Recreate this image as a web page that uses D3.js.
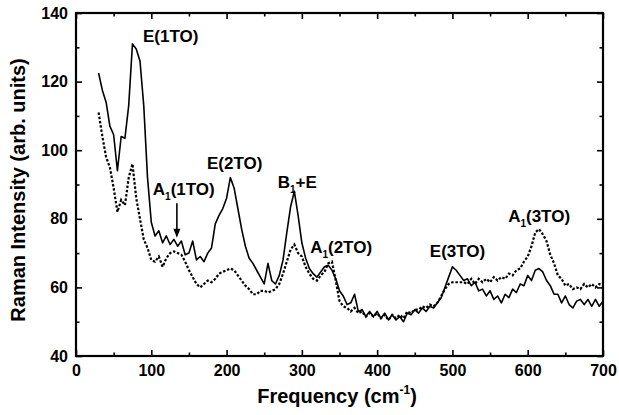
<!DOCTYPE html>
<html>
<head>
<meta charset="utf-8">
<script src="https://cdn.jsdelivr.net/npm/d3@7"></script>
<style>
  html, body { margin: 0; padding: 0; background: #fff; }
  svg { display: block; }
  text { font-family: "Liberation Sans", Arial, sans-serif; font-weight: bold; fill: #000; }
</style>
</head>
<body>
<svg id="chart" width="619" height="415"></svg>
<script>
// ---- data ----
const freq = [30,35,40,45,50,55,60,65,70,75,80,85,90,95,100,105,110,115,120,125,130,135,140,145,150,155,160,165,170,175,180,185,190,195,200,205,210,215,220,225,230,235,240,245,250,255,260,265,270,275,280,285,290,295,300,305,310,315,320,325,330,335,340,345,350,355,360,365,370,375,380,385,390,395,400,405,410,415,420,425,430,435,440,445,450,455,460,465,470,475,480,485,490,495,500,505,510,515,520,525,530,535,540,545,550,555,560,565,570,575,580,585,590,595,600,605,610,615,620,625,630,635,640,645,650,655,660,665,670,675,680,685,690,695,700];

const solidSeries = [122.5,117.5,114,107,104.5,94,104,103.5,113,131,129.5,126,113,92,79,75,76.5,73,75,72.5,74,72,73.5,69.5,70,73.5,68,69,67.5,70,71.5,78.5,81,83,86,92,89,83,77,72,68.5,67,65,63,61,67,62,61,63.5,68,76,83.5,88,81,73,68.5,65.5,64,63,64.5,66,66.5,65,62.5,59,57.5,55,55.5,58,53,53.5,51.5,53,51.5,53,51,52.5,50.5,52,50.5,51.5,50,52.5,52,53.5,52.5,54,53,54.5,54,55.5,57,60,63,66,65,63.5,62,62.5,60.5,61.5,59,59.5,57.5,59,56.5,57.5,55.5,58,57,59.5,58.5,61,60.5,63.5,62,65,65.5,64.5,62,60.5,58,58,55.5,57.5,55,54,56,56.5,55,56.5,54.5,56.5,54.5,56];

const dottedSeries = [111,104,98,95,89,82,85.5,84,92,96,86,80,74,71.5,68,67.5,69,66,68.5,70,70.5,70,69.5,67.5,65,63,61,60,61,62,61.5,62.5,64,64.5,65,65.5,65,63.5,62,60.5,59.5,58,58,59,59,58.5,59,59.5,61,64,67.5,71,72.5,70,69,66,64,62.5,62,63.5,64.5,67,67.5,62,56,54.5,54,53,54,52.5,53,51.5,52.5,51.5,52.5,51,52,50.5,52,51,52,51,53,52.5,53.5,53.5,54.5,54,55,54.5,55.5,57.5,59.5,61,61.5,61.5,61.5,61.5,61,62.5,61,62.5,61.5,62.5,61.5,63,62,63,62.5,64,63.5,65,65.5,67.5,69,72,76,77,75.5,73.5,69.5,67,63.5,62.5,60.5,61,59.5,60,59.5,61,60,61,60,61,60.5];

const xMajor = [0,100,200,300,400,500,600,700];
const xMinor = [50,150,250,350,450,550,650];
const yMajor = [40,60,80,100,120,140];
const yMinor = [50,70,90,110,130];

const peakLabels = [
  {main: "E(1TO)", f: 89, v: 131.5},
  {main: "E(2TO)", f: 174, v: 94.5},
  {pre: "B", sub: "1", post: "+E", f: 268, v: 89},
  {pre: "A", sub: "1", post: "(1TO)", f: 102, v: 87},
  {pre: "A", sub: "1", post: "(2TO)", f: 311, v: 70},
  {main: "E(3TO)", f: 470, v: 68.9},
  {pre: "A", sub: "1", post: "(3TO)", f: 574, v: 79}
];
const arrowAt = {f: 134, vFrom: 84.5, vTo: 74.5};

// ---- layout ----
const svg = d3.select("#chart");
const L = 76, R = 603, T = 13, B = 356;
const x = d3.scaleLinear().domain([0, 700]).range([L, R]);
const y = d3.scaleLinear().domain([40, 140]).range([B, T]);

function styleAxis(g) {
  g.select(".domain").remove();
  g.selectAll(".tick line").attr("stroke", "#000").attr("stroke-width", 1.6);
  g.selectAll("text").style("font-size", "16px").style("font-family", '"Liberation Sans", Arial, sans-serif').style("font-weight", "bold").attr("fill", "#000");
}
svg.append("g").attr("transform", `translate(0,${B})`)
  .call(d3.axisBottom(x).tickValues(xMajor).tickSize(-6).tickPadding(9).tickFormat(d3.format("d")))
  .call(styleAxis);
svg.append("g").attr("transform", `translate(0,${B})`)
  .call(d3.axisBottom(x).tickValues(xMinor).tickSize(-3.5).tickFormat(""))
  .call(styleAxis);
svg.append("g").attr("transform", `translate(0,${T})`)
  .call(d3.axisTop(x).tickValues(xMajor).tickSize(-6).tickFormat(""))
  .call(styleAxis);
svg.append("g").attr("transform", `translate(0,${T})`)
  .call(d3.axisTop(x).tickValues(xMinor).tickSize(-3.5).tickFormat(""))
  .call(styleAxis);
svg.append("g").attr("transform", `translate(${L},0)`)
  .call(d3.axisLeft(y).tickValues(yMajor).tickSize(-6).tickPadding(8).tickFormat(d3.format("d")))
  .call(styleAxis);
svg.append("g").attr("transform", `translate(${L},0)`)
  .call(d3.axisLeft(y).tickValues(yMinor).tickSize(-3.5).tickFormat(""))
  .call(styleAxis);
svg.append("g").attr("transform", `translate(${R},0)`)
  .call(d3.axisRight(y).tickValues(yMajor).tickSize(-6).tickFormat(""))
  .call(styleAxis);
svg.append("g").attr("transform", `translate(${R},0)`)
  .call(d3.axisRight(y).tickValues(yMinor).tickSize(-3.5).tickFormat(""))
  .call(styleAxis);

svg.append("rect").attr("x", L).attr("y", T).attr("width", R - L).attr("height", B - T)
  .attr("fill", "none").attr("stroke", "#000").attr("stroke-width", 2.2);

svg.append("clipPath").attr("id", "clip").append("rect")
  .attr("x", L).attr("y", T).attr("width", R - L).attr("height", B - T);
const line = d3.line().x(d => x(d[0])).y(d => y(d[1]));
const solidData = freq.map((f, i) => [f, solidSeries[i]]);
const dottedData = freq.map((f, i) => [f, dottedSeries[i]]);

svg.append("path").datum(dottedData).attr("d", line)
  .attr("fill", "none").attr("stroke", "#000").attr("stroke-width", 2.2)
  .attr("stroke-dasharray", "2.5,1.8").attr("clip-path", "url(#clip)");
svg.append("path").datum(solidData).attr("d", line)
  .attr("fill", "none").attr("stroke", "#000").attr("stroke-width", 1.6)
  .attr("stroke-linejoin", "round").attr("clip-path", "url(#clip)");

peakLabels.forEach(p => {
  const t = svg.append("text").attr("x", x(p.f)).attr("y", y(p.v)).style("font-size", "17px");
  if (p.main) {
    t.text(p.main);
  } else {
    t.append("tspan").text(p.pre);
    t.append("tspan").text(p.sub).style("font-size", "10px").attr("dy", 5);
    t.append("tspan").text(p.post).attr("dy", -5);
  }
});

const ax = x(arrowAt.f), ay1 = y(arrowAt.vFrom), ay2 = y(arrowAt.vTo);
svg.append("line").attr("x1", ax).attr("x2", ax).attr("y1", ay1).attr("y2", ay2 - 6)
  .attr("stroke", "#000").attr("stroke-width", 1.6);
svg.append("path").attr("d", `M${ax - 3.5},${ay2 - 9} L${ax + 3.5},${ay2 - 9} L${ax},${ay2} Z`).attr("fill", "#000");

svg.append("text").attr("x", 337).attr("y", 403).attr("text-anchor", "middle").style("font-size", "20px")
  .call(t => {
    t.append("tspan").text("Frequency (cm");
    t.append("tspan").text("-1").style("font-size", "12px").attr("dy", -9);
    t.append("tspan").text(")").attr("dy", 9);
  });
svg.append("text").attr("transform", "translate(25,190) rotate(-90)").attr("text-anchor", "middle")
  .style("font-size", "20px").text("Raman Intensity (arb. units)");
</script>
</body>
</html>
